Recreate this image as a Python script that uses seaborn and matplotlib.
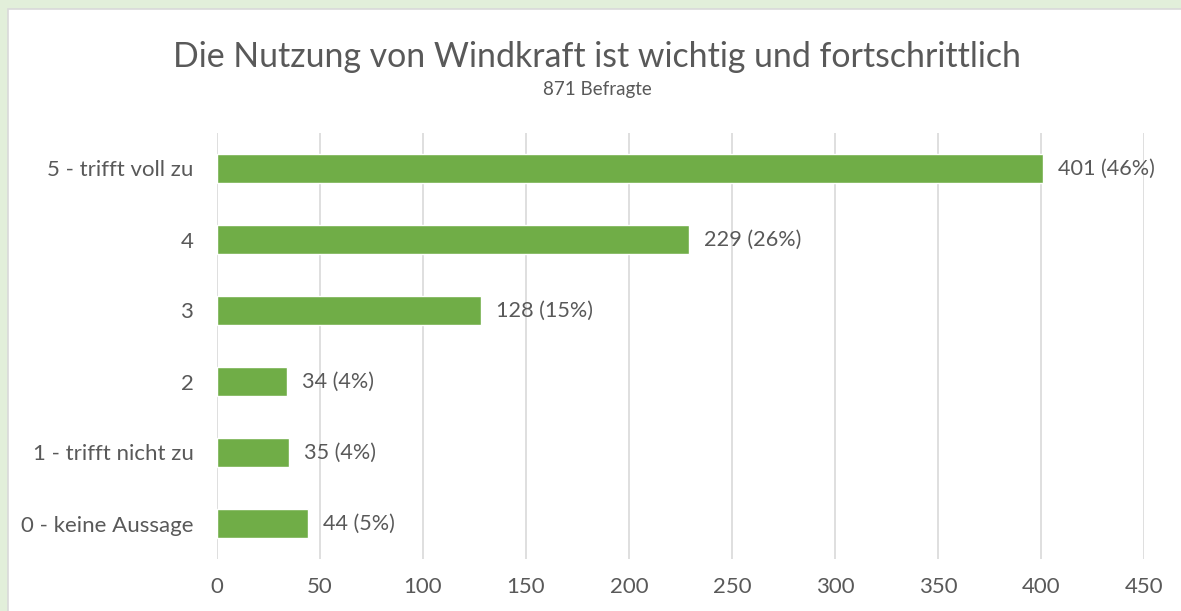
import matplotlib
matplotlib.use("Agg")
import matplotlib.pyplot as plt
import seaborn as sns
import pandas as pd
from matplotlib.patches import Rectangle

kategorien = ["5 - trifft voll zu", "4", "3", "2", "1 - trifft nicht zu", "0 - keine Aussage"]
anzahl = [401, 229, 128, 34, 35, 44]
prozent = [46, 26, 15, 4, 4, 5]
x_ticks = [0, 50, 100, 150, 200, 250, 300, 350, 400, 450]

titel = "Die Nutzung von Windkraft ist wichtig und fortschrittlich"
untertitel = "871 Befragte"

df = pd.DataFrame({"kategorie": kategorien, "anzahl": anzahl})

sns.set_style("white")
plt.rcParams["font.family"] = ["Lato", "DejaVu Sans"]

textfarbe = "#595959"
gruen = "#70ad47"

fig = plt.figure(figsize=(11.81, 6.11), dpi=100, facecolor="#e2efda")
W, H = 1181, 611
# weisse Diagrammflaeche mit grauem Rand (nur links/oben sichtbar)
fig.patches.append(Rectangle((8 / W, -0.05), 1.1, 1.05 - 9 / H, transform=fig.transFigure,
                             facecolor="white", edgecolor="#d9d9d9", linewidth=1.2, zorder=-1))

ax = fig.add_axes([217 / W, 1 - 559 / H, (1144 - 217) / W, (559 - 133) / H])
ax.set_facecolor("none")

sns.barplot(data=df, y="kategorie", x="anzahl", color=gruen, width=0.4,
            saturation=1, ax=ax, zorder=3)

for i, (n, p) in enumerate(zip(anzahl, prozent)):
    ax.annotate(f"{n} ({p}%)", xy=(n, i), xytext=(11, 0), textcoords="offset points",
                va="center", ha="left", fontsize=15.6, color=textfarbe, zorder=4)

ax.set_xlim(0, 450)
ax.set_xticks(x_ticks)
ax.xaxis.grid(True, color="#d9d9d9", linewidth=1.2, zorder=0)
ax.set_axisbelow(True)
for s in ax.spines.values():
    s.set_visible(False)
ax.tick_params(axis="both", length=0, labelsize=16, labelcolor=textfarbe)
ax.tick_params(axis="x", pad=13)
ax.tick_params(axis="y", pad=17)
ax.set_xlabel("")
ax.set_ylabel("")

fig.text(597 / W, 1 - 67 / H, titel, ha="center", va="baseline", fontsize=24.4, color=textfarbe)
fig.text(597 / W, 1 - 95 / H, untertitel, ha="center", va="baseline", fontsize=13.5, color=textfarbe)

fig.savefig("out.png", dpi=100, facecolor=fig.get_facecolor())
